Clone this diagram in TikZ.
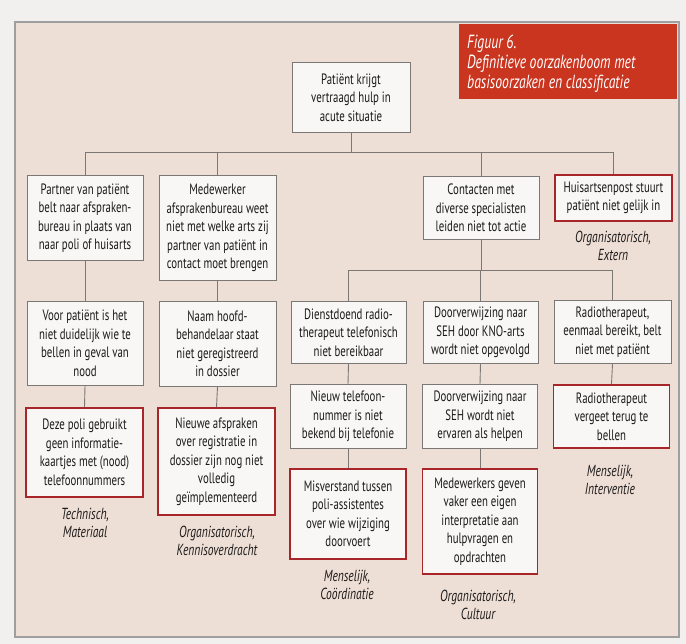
\documentclass[tikz,border=0pt]{standalone}
\usepackage{fontspec}
\setmainfont{PT Sans}[FakeStretch=0.72]
\definecolor{bgout}{HTML}{F1F0EF}
\definecolor{bgin}{HTML}{EEDFD6}
\definecolor{boxfill}{HTML}{F8F7F5}
\definecolor{boxline}{HTML}{7A7774}
\definecolor{redline}{HTML}{A8262A}
\definecolor{titlered}{HTML}{C9351F}
\definecolor{txt}{HTML}{1C1A19}
\begin{document}
\begin{tikzpicture}[x=1pt,y=-1pt,
  box/.style={draw=boxline, line width=0.9pt, fill=boxfill, text=txt, align=center, anchor=north, inner sep=1pt, font=\fontsize{15}{18.5}\selectfont},
  rbox/.style={box, draw=redline, line width=1.8pt},
  lbl/.style={text=txt, align=center, font=\fontsize{16}{18}\selectfont\itshape},
  conn/.style={draw=boxline, line width=0.9pt}]
\useasboundingbox (0,0) rectangle (686,644);
\fill[bgout] (0,0) rectangle (686,644);
\draw[fill=bgin, draw=gray!75, line width=1.2pt] (15,22) rectangle (679,637);
\fill[titlered] (459,24) rectangle (677,99);
\node[anchor=north west, text=white, align=left, inner sep=0pt, font=\fontsize{19}{20}\selectfont\itshape] (title) at (467,35) {Figuur 6.\\Definitieve oorzakenboom met\\basisoorzaken en classificatie};
% level 0
\node[box, minimum width=118, minimum height=70] (root) at (351,62) {Patiënt krijgt\\vertraagd hulp in\\acute situatie};
% level 1
\node[box, minimum width=116, minimum height=85] (partner) at (85,175) {Partner van patiënt\\belt naar afspraken-\\bureau in plaats van\\naar poli of huisarts};
\node[box, minimum width=117, minimum height=105] (medew) at (217.5,175) {Medewerker\\afsprakenbureau weet\\niet met welke arts zij\\partner van patiënt in\\contact moet brengen};
\node[box, minimum width=116, minimum height=63] (contact) at (481,176) {Contacten met\\diverse specialisten\\leiden niet tot actie};
\node[rbox, minimum width=117, minimum height=46] (huis) at (613.5,174) {Huisartsenpost stuurt\\patiënt niet gelijk in};
% level 2
\node[box, minimum width=116, minimum height=84] (voor) at (85,301) {Voor patiënt is het\\niet duidelijk wie te\\bellen in geval van\\nood};
\node[box, minimum width=117, minimum height=85] (naam) at (217.5,301) {Naam hoofd-\\behandelaar staat\\niet geregistreerd\\in dossier};
\node[box, minimum width=115, minimum height=62] (dienst) at (348.5,301) {Dienstdoend radio-\\therapeut telefonisch\\niet bereikbaar};
\node[box, minimum width=115, minimum height=62] (door1) at (480.5,301) {Doorverwijzing naar\\SEH door KNO-arts\\wordt niet opgevolgd};
\node[box, minimum width=117, minimum height=63] (radio1) at (612.5,300) {Radiotherapeut,\\eenmaal bereikt, belt\\niet met patiënt};
% level 3
\node[rbox, minimum width=117, minimum height=89] (deze) at (84.5,407) {Deze poli gebruikt\\geen informatie-\\kaartjes met (nood)\\telefoonnummers};
\node[rbox, minimum width=117, minimum height=107] (nieuwe) at (216.5,407) {Nieuwe afspraken\\over registratie in\\dossier zijn nog niet\\volledig\\geïmplementeerd};
\node[box, minimum width=116, minimum height=64] (tel) at (348,384) {Nieuw telefoon-\\nummer is niet\\bekend bij telefonie};
\node[box, minimum width=115, minimum height=64] (door2) at (480,384) {Doorverwijzing naar\\SEH wordt niet\\ervaren als helpen};
\node[rbox, minimum width=116, minimum height=63] (radio2) at (611.5,384) {Radiotherapeut\\vergeet terug te\\bellen};
% level 4
\node[rbox, minimum width=116, minimum height=90] (misv) at (348,468) {Misverstand tussen\\poli-assistentes\\over wie wijziging\\doorvoert};
\node[rbox, minimum width=115, minimum height=105] (medg) at (480,468) {Medewerkers geven\\vaker een eigen\\interpretatie aan\\hulpvragen en\\opdrachten};
% classification labels
\node[lbl] (l1) at (85,523) {Technisch,\\Materiaal};
\node[lbl] (l2) at (217,541) {Organisatorisch,\\Kennisoverdracht};
\node[lbl] (l3) at (613,246) {Organisatorisch,\\Extern};
\node[lbl] (l4) at (610,480) {Menselijk,\\Interventie};
\node[lbl] (l5) at (347,585) {Menselijk,\\Coördinatie};
\node[lbl] (l6) at (478,605) {Organisatorisch,\\Cultuur};
% connectors
\coordinate (bus1) at (0,152);
\coordinate (bus2) at (0,270);
\draw[conn] (root.south) -- (root.south |- bus1);
\draw[conn] (partner.north) |- (bus1 -| huis.north) -- (huis.north);
\draw[conn] (medew.north) -- (medew.north |- bus1);
\draw[conn] (contact.north) -- (contact.north |- bus1);
\draw[conn] (partner.south) -- (voor.north);
\draw[conn] (voor.south) -- (deze.north);
\draw[conn] (medew.south) -- (naam.north);
\draw[conn] (naam.south) -- (nieuwe.north);
\draw[conn] (contact.south) -- (contact.south |- bus2);
\draw[conn] (dienst.north) |- (bus2 -| radio1.north) -- (radio1.north);
\draw[conn] (door1.north) -- (door1.north |- bus2);
\draw[conn] (dienst.south) -- (tel.north);
\draw[conn] (tel.south) -- (misv.north);
\draw[conn] (door1.south) -- (door2.north);
\draw[conn] (door2.south) -- (medg.north);
\draw[conn] (radio1.south) -- (radio2.north);
\end{tikzpicture}
\end{document}
